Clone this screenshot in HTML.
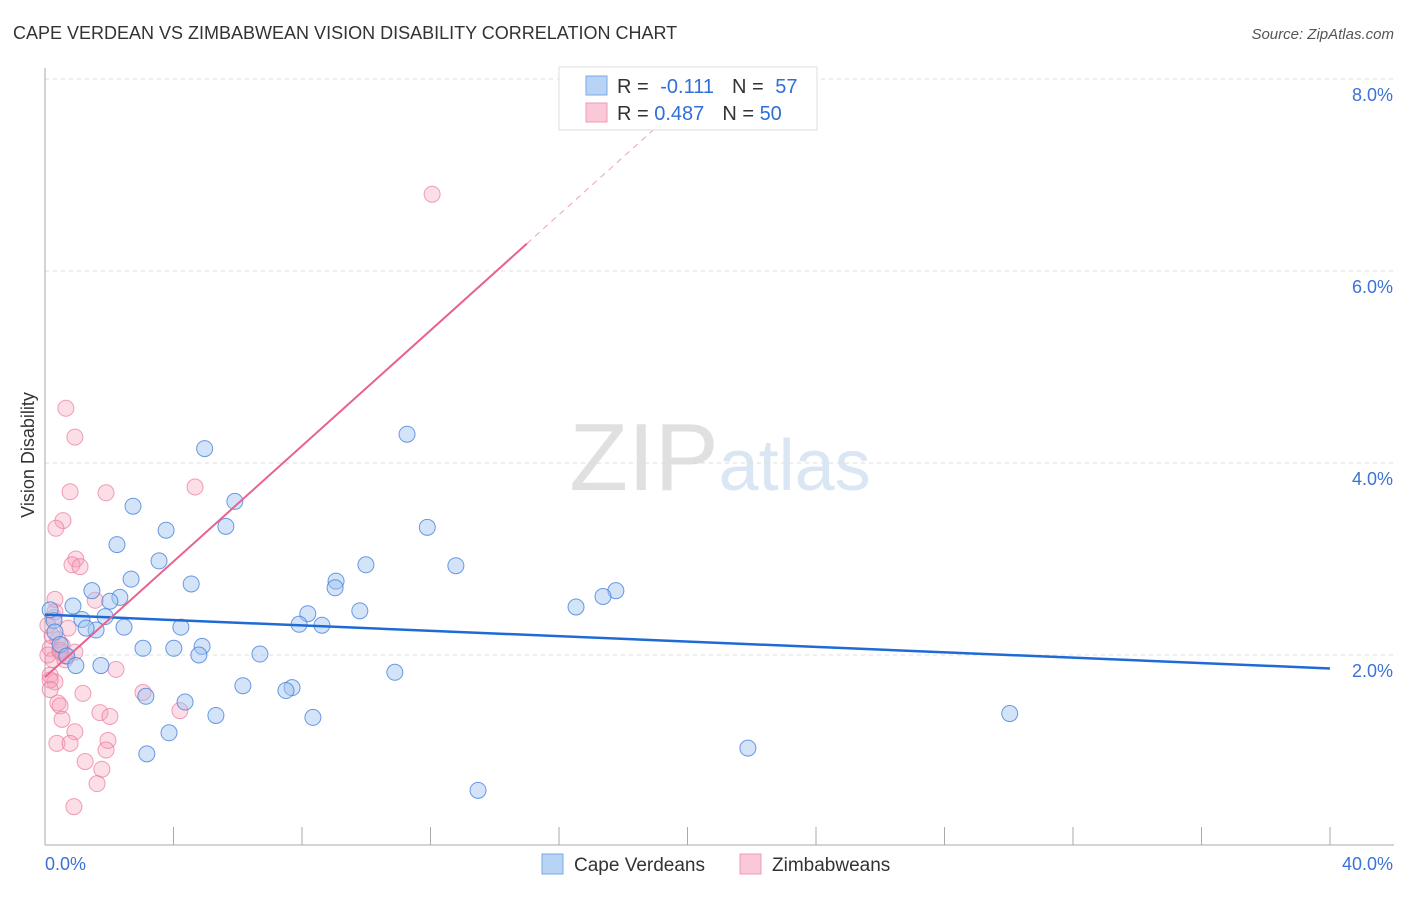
<!DOCTYPE html>
<html><head><meta charset="utf-8"><style>
body{margin:0;background:#fff;font-family:"Liberation Sans",sans-serif;}
svg text{font-family:"Liberation Sans",sans-serif;}
</style></head><body>
<svg id="chart" width="1406" height="892" xmlns="http://www.w3.org/2000/svg">
<text x="13" y="39" font-size="18" fill="#333">CAPE VERDEAN VS ZIMBABWEAN VISION DISABILITY CORRELATION CHART</text>
<text x="1394" y="39" font-size="15" fill="#555" font-style="italic" text-anchor="end">Source: ZipAtlas.com</text>
<text transform="translate(34,455) rotate(-90)" font-size="18" fill="#333" text-anchor="middle">Vision Disability</text>
<text x="720" y="490" font-size="96" text-anchor="middle" fill="#ddd" font-family="Liberation Serif"><tspan fill="#e0e0e0">ZIP</tspan><tspan fill="#dbe6f5" font-family="Liberation Sans" font-size="72">atlas</tspan></text>
<g id="grid"></g><g id="axes"></g><g id="pts"></g><g id="lines"></g>
<g>
<rect x="559" y="67" width="258" height="63" fill="#fff" stroke="#ddd"/>
<rect x="586" y="76" width="21" height="19" fill="#b9d3f5" stroke="#7aa8e8"/>
<rect x="586" y="103" width="21" height="19" fill="#f9c9d8" stroke="#f09ab5"/>
<text x="617" y="93" font-size="20" fill="#333">R = <tspan fill="#2f6fd6" dx="6">-0.111</tspan><tspan fill="#333" dx="18">N = </tspan><tspan fill="#2f6fd6" dx="6">57</tspan></text>
<text x="617" y="120" font-size="20" fill="#333">R = <tspan fill="#2f6fd6">0.487</tspan><tspan fill="#333" dx="18">N = </tspan><tspan fill="#2f6fd6">50</tspan></text>
</g>
<g>
<rect x="542" y="854" width="21" height="20" fill="#b9d3f5" stroke="#7aa8e8"/>
<text x="574" y="871" font-size="19" fill="#333">Cape Verdeans</text>
<rect x="740" y="854" width="21" height="20" fill="#f9c9d8" stroke="#f09ab5"/>
<text x="772" y="871" font-size="19" fill="#333">Zimbabweans</text>
</g>
</svg>
<script>
const yTicks=[2,4,6,8];
const xTickLabels=["0.0%","40.0%"];
const blueX=[4.97,11.27,2.74,5.91,5.63,3.77,11.9,2.24,3.55,9.99,12.79,2.68,4.55,9.06,9.03,17.77,17.37,1.46,2.33,2.02,16.53,0.87,9.8,8.18,1.87,1.15,0.28,7.91,8.62,4.23,2.46,1.59,1.28,0.31,0.47,4.89,4.01,3.05,4.79,6.69,0.68,1.74,0.96,10.89,6.16,7.69,7.5,4.36,3.14,5.32,8.34,30.03,3.86,21.88,3.17,13.48,0.16];
const blueY=[4.15,4.3,3.55,3.6,3.34,3.3,3.33,3.15,2.98,2.94,2.93,2.79,2.74,2.77,2.7,2.67,2.61,2.67,2.6,2.56,2.5,2.51,2.46,2.43,2.4,2.37,2.36,2.32,2.31,2.29,2.29,2.26,2.28,2.24,2.11,2.09,2.07,2.07,2.0,2.01,1.99,1.89,1.89,1.82,1.68,1.66,1.63,1.51,1.57,1.37,1.35,1.39,1.19,1.03,0.97,0.59,2.47];
const pinkX=[12.05,0.65,0.93,0.78,1.9,4.67,0.56,0.34,0.96,0.84,1.09,0.31,1.56,0.28,0.72,0.4,0.16,0.47,0.65,0.93,0.25,2.21,0.16,0.31,0.16,1.18,3.05,0.4,0.47,1.71,2.02,4.2,0.53,0.93,0.37,0.78,1.96,1.9,1.25,1.77,1.62,0.9,0.16,0.09,0.22,0.53,0.62,0.09,0.31,0.47];
const pinkY=[6.8,4.57,4.27,3.7,3.69,3.75,3.4,3.32,3.0,2.94,2.92,2.58,2.57,2.39,2.28,2.16,2.07,2.03,1.99,2.03,1.95,1.85,1.79,1.72,1.74,1.6,1.61,1.5,1.47,1.4,1.36,1.42,1.33,1.2,1.08,1.08,1.11,1.01,0.89,0.81,0.66,0.42,1.64,2.0,2.2,2.1,1.95,2.31,2.45,2.05];
const blueFit=[2.42,-0.014];
const pinkFit=[1.77,0.301];
const NS="http://www.w3.org/2000/svg";
const X=v=>45+v/40*1285, Y=v=>847-v*96;
function mk(tag,attrs,parent){const e=document.createElementNS(NS,tag);for(const k in attrs)e.setAttribute(k,attrs[k]);document.getElementById(parent).appendChild(e);return e;}
yTicks.forEach(t=>{
 const l=mk('line',{x1:45,x2:1394,y1:Y(t),y2:Y(t),stroke:'#ddd','stroke-dasharray':'4,4'},'grid');
 
 
 const tx=mk('text',{x:1393,y:Y(t)+22,'font-size':18,fill:'#3b72d4','text-anchor':'end'},'grid');
 tx.textContent=t.toFixed(1)+'%';
 
 
});
mk('line',{x1:45,x2:45,y1:68,y2:845,stroke:'#aaa'},'axes');
mk('line',{x1:45,x2:1394,y1:845,y2:845,stroke:'#aaa'},'axes');
for(let i=1;i<=10;i++){mk('line',{x1:X(i*4),x2:X(i*4),y1:827,y2:845,stroke:'#aaa'},'axes');}
const xl0=mk('text',{x:45,y:870,'font-size':18,fill:'#3b72d4'},'axes');xl0.textContent=xTickLabels[0];


const xl1=mk('text',{x:1393,y:870,'font-size':18,fill:'#3b72d4','text-anchor':'end'},'axes');xl1.textContent=xTickLabels[1];


pinkX.forEach((x,i)=>{const c=mk('circle',{cx:X(x),cy:Y(pinkY[i]),r:8,fill:'rgba(245,160,185,0.35)',stroke:'rgba(235,120,155,0.7)','stroke-width':1},'pts');
 
 });
blueX.forEach((x,i)=>{const c=mk('circle',{cx:X(x),cy:Y(blueY[i]),r:8,fill:'rgba(160,195,240,0.45)',stroke:'rgba(70,130,220,0.8)','stroke-width':1},'pts');
 
 });
const bl=mk('line',{x1:X(0),y1:Y(blueFit[0]),x2:X(40),y2:Y(blueFit[0]+blueFit[1]*40),stroke:'#1f6bd6','stroke-width':2.5},'lines');


const pl=mk('line',{x1:X(0),y1:Y(pinkFit[0]),x2:X(15),y2:Y(pinkFit[0]+pinkFit[1]*15),stroke:'#e8628d','stroke-width':2},'lines');


const pd=mk('line',{x1:X(15),y1:Y(pinkFit[0]+pinkFit[1]*15),x2:X(19),y2:Y(pinkFit[0]+pinkFit[1]*19),stroke:'#f0a0b8','stroke-width':1,'stroke-dasharray':'6,5'},'lines');


</script>
</body></html>
